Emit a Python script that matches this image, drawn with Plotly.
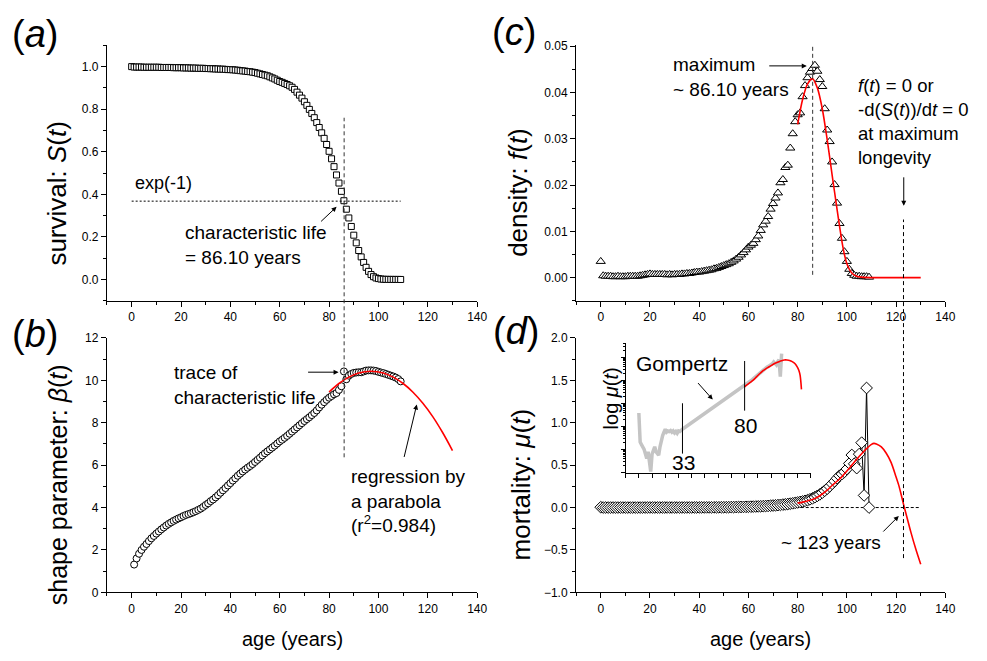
import plotly.graph_objects as go

# The page body has an 8px margin, so the figure is drawn at (8, 8);
# reference pixel coordinates are converted accordingly.
OFF = 8
W, H = 987 - OFF, 661 - OFF
FONT = "Liberation Sans, Arial, Helvetica, sans-serif"


def px(x):
    return (x - OFF) / W


def py(y):
    return 1 - (y - OFF) / H


# ---------------- data ----------------
ages = list(range(0, 110))

survival = [
    1.000, 0.998, 0.998, 0.998, 0.998, 0.997, 0.997, 0.997, 0.997, 0.997,
    0.997, 0.997, 0.996, 0.996, 0.996, 0.996, 0.996, 0.995, 0.995, 0.995,
    0.995, 0.994, 0.994, 0.994, 0.993, 0.993, 0.993, 0.992, 0.992, 0.992,
    0.991, 0.991, 0.990, 0.990, 0.989, 0.989, 0.988, 0.988, 0.987, 0.986,
    0.986, 0.985, 0.984, 0.983, 0.981, 0.980, 0.979, 0.977, 0.976, 0.974,
    0.972, 0.969, 0.966, 0.963, 0.960, 0.957, 0.952, 0.947, 0.942, 0.936,
    0.930, 0.926, 0.921, 0.916, 0.910, 0.903, 0.893, 0.880, 0.866, 0.852,
    0.835, 0.818, 0.799, 0.780, 0.760, 0.737, 0.714, 0.689, 0.663, 0.634,
    0.602, 0.567, 0.530, 0.491, 0.453, 0.414, 0.370, 0.330, 0.289, 0.249,
    0.208, 0.172, 0.136, 0.106, 0.080, 0.057, 0.038, 0.023, 0.013, 0.007,
    0.004, 0.002, 0.001, 0.0005, 0.0004, 0.0003, 0.0002, 0.0001, 0.0001, 0.0,
]

density = [
    0.0035, 0.0004, 0.0003, 0.0003, 0.0003, 0.0002, 0.0002, 0.0003, 0.0002, 0.0002,
    0.0002, 0.0003, 0.0003, 0.0003, 0.0003, 0.0003, 0.0004, 0.0005, 0.0006, 0.0007,
    0.0008, 0.0007, 0.0007, 0.0007, 0.0007, 0.0007, 0.0007, 0.0006, 0.0007, 0.0006,
    0.0007, 0.0007, 0.0007, 0.0008, 0.0008, 0.0009, 0.0009, 0.0010, 0.0011, 0.0012,
    0.0012, 0.0013, 0.0014, 0.0015, 0.0016, 0.0017, 0.0019, 0.0020, 0.0022, 0.0024,
    0.0026, 0.0028, 0.0030, 0.0033, 0.0036, 0.0040, 0.0044, 0.0049, 0.0054, 0.0060,
    0.0066, 0.0070, 0.0074, 0.0082, 0.0090, 0.0102, 0.0114, 0.0122, 0.0132, 0.0148,
    0.0160, 0.0172, 0.0183, 0.0205, 0.0212, 0.0238, 0.0243, 0.0280, 0.0311, 0.0337,
    0.0352, 0.0356, 0.0391, 0.0415, 0.0432, 0.0444, 0.0452, 0.0459, 0.0446, 0.0428,
    0.0413, 0.0365, 0.0319, 0.0294, 0.0250, 0.0201, 0.0161, 0.0117, 0.0085, 0.0056,
    0.0035, 0.0018, 0.0009, 0.0005, 0.0003, 0.0003, 0.0002, 0.0002, 0.0002, 0.0001,
]

beta_ages = list(range(1, 110))
beta = [
    1.31, 1.60, 1.82, 2.00, 2.15, 2.28, 2.42, 2.55, 2.66, 2.77,
    2.87, 2.97, 3.06, 3.15, 3.23, 3.30, 3.37, 3.43, 3.49, 3.54,
    3.60, 3.65, 3.69, 3.73, 3.78, 3.83, 3.89, 3.95, 4.03, 4.12,
    4.20, 4.30, 4.38, 4.48, 4.58, 4.70, 4.81, 4.92, 5.04, 5.15,
    5.27, 5.38, 5.50, 5.60, 5.70, 5.79, 5.88, 5.96, 6.05, 6.15,
    6.25, 6.35, 6.46, 6.56, 6.65, 6.74, 6.83, 6.92, 7.02, 7.12,
    7.20, 7.29, 7.38, 7.48, 7.58, 7.68, 7.78, 7.88, 7.98, 8.08,
    8.17, 8.26, 8.36, 8.46, 8.58, 8.72, 8.85, 8.97, 9.08, 9.18,
    9.26, 9.34, 9.40, 9.55, 9.72, 10.42, 10.05, 10.22, 10.30, 10.35,
    10.37, 10.38, 10.38, 10.42, 10.46, 10.47, 10.47, 10.46, 10.44, 10.40,
    10.37, 10.34, 10.30, 10.26, 10.22, 10.18, 10.13, 10.06, 9.95,
]

mortality = [
    0.0038, 2.1e-4, 1.6e-4, 1.3e-4, 1.0e-4, 6.3e-5, 4.0e-5, 8.0e-5, 2.5e-5, 1.1e-5,
    6.3e-5, 1.0e-4, 1.3e-4, 8.0e-5, 6.3e-5, 5.6e-5, 1.3e-4, 2.5e-4, 4.0e-4, 5.6e-4,
    7.6e-4, 5.6e-4, 6.3e-4, 6.0e-4, 6.6e-4, 5.6e-4, 6.3e-4, 5.2e-4, 6.0e-4, 5.0e-4,
    6.3e-4, 6.0e-4, 7.1e-4, 7.6e-4, 8.3e-4, 9.1e-4, 1.0e-3, 1.07e-3, 1.23e-3, 1.32e-3,
    1.45e-3, 1.62e-3, 1.74e-3, 1.95e-3, 2.09e-3, 2.29e-3, 2.51e-3, 2.82e-3, 3.02e-3, 3.39e-3,
    3.63e-3, 3.98e-3, 4.37e-3, 4.90e-3, 5.25e-3, 5.89e-3, 6.46e-3, 7.08e-3, 7.76e-3, 8.51e-3,
    9.33e-3, 0.0102, 0.0112, 0.0123, 0.0135, 0.0148, 0.0162, 0.0178, 0.0195, 0.0219,
    0.0240, 0.0263, 0.0288, 0.0316, 0.0347, 0.0380, 0.0417, 0.0457, 0.0501, 0.0550,
    0.060, 0.066, 0.072, 0.079, 0.087, 0.097, 0.108, 0.122, 0.138, 0.155,
    0.175, 0.198, 0.222, 0.250, 0.280, 0.310, 0.345, 0.375, 0.395, 0.420,
    0.455, 0.520, 0.620, 0.515, 0.465, 0.630, 0.765, 0.143, 1.410, 0.0,
]

# fitted curves (red)
fit_beta_ages = [80, 84, 88, 92, 97, 102, 106, 110, 114, 118, 122, 126, 130]
fit_beta = [9.45, 9.85, 10.15, 10.35, 10.43, 10.35, 10.15, 9.85, 9.44, 8.92, 8.29, 7.54, 6.69]

fit_dens_ages = [80, 82, 84, 86, 88, 90, 92, 94, 95, 96, 97, 98, 99, 100, 102, 104, 106, 110, 120, 130]
fit_dens = [0.0331, 0.0385, 0.0418, 0.0430, 0.0410, 0.0365, 0.0298, 0.0222, 0.0185, 0.0148,
            0.0112, 0.0078, 0.0050, 0.0030, 0.0010, 0.0003, 0.0001, 0.0, 0.0, 0.0]

fit_mort_ages = [80, 82, 84, 86, 88, 90, 92, 94, 96, 98, 100, 102, 104, 106, 108, 110, 111,
                 112, 114, 116, 118, 120, 121, 122, 123, 124, 126, 128, 130]
fit_mort = [0.052, 0.064, 0.078, 0.095, 0.122, 0.160, 0.205, 0.260, 0.310, 0.365, 0.430, 0.500,
            0.570, 0.635, 0.695, 0.745, 0.757, 0.750, 0.715, 0.640, 0.530, 0.360, 0.270, 0.160,
            0.040, -0.070, -0.290, -0.490, -0.670]

# reference values
CHAR_LIFE = 86.1
EXP_M1 = 0.3679
MAX_LONGEVITY = 123
gompertz_start = 33
gompertz_end = 80
inset_mark33_y = [6.6e-5, 1.0e-2]
inset_mark80_y = [4.8e-3, 0.68]

# positive parts only, for the log-scale inset
log_ages = [a for a, m in zip(ages, mortality) if m > 0]
log_mort = [m for m in mortality if m > 0]
log_fit_ages = [a for a, m in zip(fit_mort_ages, fit_mort) if m > 0]
log_fit = [m for m in fit_mort if m > 0]

# ---------------- figure ----------------
fig = go.Figure()

BLACK = "black"
RED = "#ff0000"

fig.add_trace(go.Scatter(
    x=ages, y=survival, mode="markers", xaxis="x", yaxis="y",
    marker=dict(symbol="square", size=6, color="white", line=dict(color=BLACK, width=1)),
))

fig.add_trace(go.Scatter(
    x=beta_ages, y=beta, mode="markers", xaxis="x2", yaxis="y2",
    marker=dict(symbol="circle", size=7, color="white", line=dict(color=BLACK, width=1)),
))
fig.add_trace(go.Scatter(
    x=fit_beta_ages, y=fit_beta, mode="lines", xaxis="x2", yaxis="y2",
    line=dict(color=RED, width=1.6, shape="spline"),
))

fig.add_trace(go.Scatter(
    x=ages, y=density, mode="markers", xaxis="x3", yaxis="y3",
    marker=dict(symbol="triangle-up", size=8, color="white", line=dict(color=BLACK, width=1)),
))
fig.add_trace(go.Scatter(
    x=fit_dens_ages, y=fit_dens, mode="lines", xaxis="x3", yaxis="y3",
    line=dict(color=RED, width=1.6, shape="spline", smoothing=0.8),
))

fig.add_trace(go.Scatter(
    x=ages, y=mortality, mode="lines+markers", xaxis="x4", yaxis="y4",
    line=dict(color=BLACK, width=1),
    marker=dict(symbol="diamond", size=9, color="white", line=dict(color=BLACK, width=1)),
))
fig.add_trace(go.Scatter(
    x=fit_mort_ages, y=fit_mort, mode="lines", xaxis="x4", yaxis="y4",
    line=dict(color=RED, width=1.6, shape="spline", smoothing=0.8),
))

# inset (log mortality)
fig.add_trace(go.Scatter(
    x=log_ages, y=log_mort, mode="lines", xaxis="x5", yaxis="y5",
    line=dict(color="#c4c4c4", width=3.5),
))
fig.add_trace(go.Scatter(
    x=log_fit_ages, y=log_fit, mode="lines", xaxis="x5", yaxis="y5",
    line=dict(color=RED, width=1.6, shape="spline", smoothing=0.8),
))
fig.add_trace(go.Scatter(
    x=[gompertz_start, gompertz_start], y=inset_mark33_y, mode="lines", xaxis="x5", yaxis="y5",
    line=dict(color=BLACK, width=1),
))
fig.add_trace(go.Scatter(
    x=[gompertz_end, gompertz_end], y=inset_mark80_y, mode="lines", xaxis="x5", yaxis="y5",
    line=dict(color=BLACK, width=1),
))

# ---------------- axes ----------------
TICKFONT = dict(family=FONT, size=12, color=BLACK)


def xaxis(domain, anchor):
    return dict(
        domain=domain, anchor=anchor, range=[-10, 140], tick0=0, dtick=20,
        ticks="outside", ticklen=5, tickwidth=1, tickcolor=BLACK,
        showline=True, linecolor=BLACK, linewidth=1.2,
        showgrid=False, zeroline=False, tickfont=TICKFONT,
        minor=dict(ticks="outside", dtick=10, tick0=0, ticklen=3, tickwidth=1, tickcolor=BLACK, showgrid=False),
    )


def yaxis(domain, anchor, rng, dtick, mdtick, fmt):
    return dict(
        domain=domain, anchor=anchor, range=rng, tick0=0, dtick=dtick, tickformat=fmt,
        ticks="outside", ticklen=5, tickwidth=1, tickcolor=BLACK,
        showline=True, linecolor=BLACK, linewidth=1.2,
        showgrid=False, zeroline=False, tickfont=TICKFONT,
        minor=dict(ticks="outside", dtick=mdtick, tick0=0, ticklen=3, tickwidth=1, tickcolor=BLACK, showgrid=False),
    )


XL = [px(108), px(482)]
XR = [px(582), px(955)]
YT = [py(300), py(39)]
YB = [py(598), py(338)]

layout_axes = dict(
    xaxis=xaxis(XL, "y"),
    yaxis=yaxis(YT, "x", [-0.1, 1.1], 0.2, 0.1, ".1f"),
    xaxis2=xaxis(XL, "y2"),
    yaxis2=yaxis(YB, "x2", [0, 12], 2, 1, "d"),
    xaxis3=xaxis(XR, "y3"),
    yaxis3=yaxis([py(300), py(39)], "x3", [-0.005, 0.0502], 0.01, 0.005, ".2f"),
    xaxis4=xaxis(XR, "y4"),
    yaxis4=yaxis(YB, "x4", [-1, 2], 0.5, 0.25, ".1f"),
    xaxis5=dict(
        domain=[px(632), px(819)], anchor="y5", range=[-10, 130], tick0=0, dtick=10,
        ticks="outside", ticklen=4, tickwidth=1, tickcolor=BLACK, showticklabels=False,
        showline=True, linecolor=BLACK, linewidth=1.2, showgrid=False, zeroline=False,
    ),
    yaxis5=dict(
        domain=[py(476), py(343)], anchor="x5", type="log", range=[-5.02, 0.62], dtick=1,
        ticks="outside", ticklen=4, tickwidth=1, tickcolor=BLACK, showticklabels=False,
        showline=True, linecolor=BLACK, linewidth=1.2, showgrid=False, zeroline=False,
        minor=dict(ticks="outside", ticklen=2, tickwidth=1, tickcolor=BLACK, showgrid=False),
    ),
)

# ---------------- reference lines ----------------
shapes = [
    dict(type="line", xref="x", yref="paper", x0=CHAR_LIFE, x1=CHAR_LIFE,
         y0=py(460), y1=py(113), line=dict(color="#333333", width=1, dash="4px,3px")),
    dict(type="line", xref="x", yref="y", x0=0, x1=109, y0=EXP_M1, y1=EXP_M1,
         line=dict(color=BLACK, width=1, dash="2px,2px")),
    dict(type="line", xref="x3", yref="y3", x0=CHAR_LIFE, x1=CHAR_LIFE, y0=0.0006, y1=0.0506,
         line=dict(color="#333333", width=1, dash="4px,3px")),
    dict(type="line", xref="x3", yref="paper", x0=MAX_LONGEVITY, x1=MAX_LONGEVITY,
         y0=py(563), y1=py(217), line=dict(color=BLACK, width=1, dash="4px,3px")),
    dict(type="line", xref="x4", yref="y4", x0=0, x1=130, y0=0, y1=0, layer="below",
         line=dict(color=BLACK, width=1, dash="3px,2px")),
]

# ---------------- annotations ----------------
ann = []


def text(x, y, s, size=19, xanchor="left", angle=0, align="left"):
    ann.append(dict(
        x=px(x), y=py(y), xref="paper", yref="paper", text=s, showarrow=False,
        xanchor=xanchor, yanchor="middle", align=align, textangle=angle,
        font=dict(family=FONT, size=size, color=BLACK),
    ))


def arrow(hx, hy, tx, ty):
    ann.append(dict(
        x=px(hx), y=py(hy), xref="paper", yref="paper", text="", showarrow=True,
        ax=tx - hx, ay=ty - hy, arrowhead=2, arrowsize=1, arrowwidth=1, arrowcolor=BLACK,
        standoff=0, startstandoff=0,
    ))


# panel letters
text(35, 27, "(<i>a</i>)", size=38, xanchor="center")
text(35, 334, "(<i>b</i>)", size=38, xanchor="center")
text(519, 25, "(<i>c</i>)", size=38, xanchor="center")
text(521, 331, "(<i>d</i>)", size=38, xanchor="center")

# axis titles
text(58, 190, "survival: <i>S</i>(<i>t</i>)", size=26, xanchor="center", angle=-90)
text(58, 488, "shape parameter: <i>β</i>(<i>t</i>)", size=25, xanchor="center", angle=-90)
text(523, 189, "density: <i>f</i>(<i>t</i>)", size=26, xanchor="center", angle=-90)
text(526, 488, "mortality: <i>μ</i>(<i>t</i>)", size=26, xanchor="center", angle=-90)
text(295, 646, "age (years)", size=20, xanchor="center")
text(768, 646, "age (years)", size=20, xanchor="center")

# panel a
text(134, 180, "exp(-1)", size=18)
text(185, 243, "characteristic life<br>= 86.10 years")
arrow(340, 204, 323, 220)

# panel b
text(174, 386, "trace of<br>characteristic life")
arrow(342, 373, 310, 373)
text(353, 505, "regression by<br>a parabola<br>(r<sup>2</sup>=0.984)")
arrow(421, 406, 408, 460)

# panel c
text(678, 71, "maximum<br>~ 86.10 years")
arrow(815, 60, 776, 60)
text(865, 117, "<i>f</i>(<i>t</i>) = 0 or<br>-d(<i>S</i>(<i>t</i>))/d<i>t</i> = 0<br>at maximum<br>longevity", size=18.5)
arrow(913, 203, 913, 173)

# panel d
text(839, 547, "~ 123 years", xanchor="center")
arrow(908, 520, 891, 537)

# inset
text(640, 364, "Gompertz", size=21)
arrow(720, 401, 704, 383)
text(690, 465, "33", size=21, xanchor="center")
text(753, 427, "80", size=21, xanchor="center")
text(617, 400, "log <i>μ</i>(<i>t</i>)", size=20, xanchor="center", angle=-90)

fig.update_layout(
    width=W, height=H,
    margin=dict(l=0, r=0, t=0, b=0),
    paper_bgcolor="white", plot_bgcolor="rgba(0,0,0,0)",
    showlegend=False,
    font=dict(family=FONT, color=BLACK),
    shapes=shapes,
    annotations=ann,
    **layout_axes,
)

fig.write_html("out.html")
